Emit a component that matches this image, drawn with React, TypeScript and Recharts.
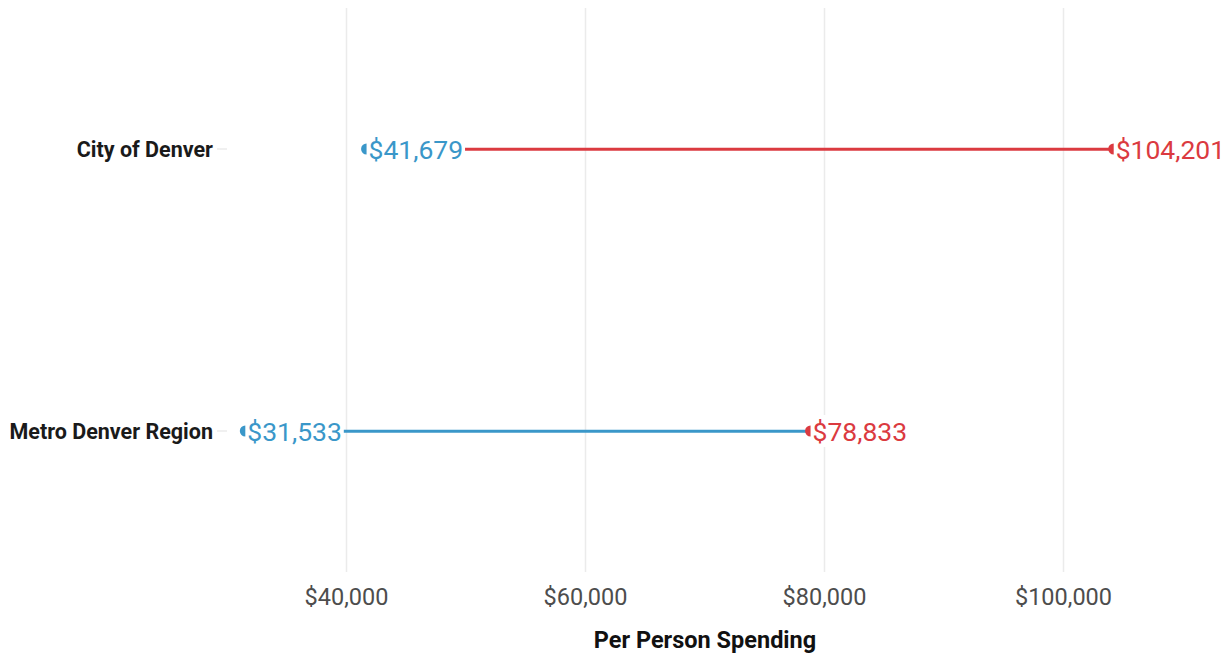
import { ComposedChart, Bar, Line, XAxis, YAxis, CartesianGrid, LabelList } from 'recharts';

// --- Data ---
const regions = ['City of Denver', 'Metro Denver Region'];
const spendingLow = [41679, 31533];
const spendingHigh = [104201, 78833];
const xTicks = [40000, 60000, 80000, 100000];

// --- Theme ---
const BLUE = '#3a97c9';
const RED = '#db3a40';
const LINE_COLORS = [RED, BLUE];
const FONT = 'Roboto, sans-serif';
const LABEL_SIZE = 26.5;
const X_DOMAIN = [30000, 110000];

const data = regions.map((name, i) => ({
    name,
    low: spendingLow[i],
    high: spendingHigh[i],
    range: [spendingLow[i], spendingHigh[i]],
}));

const fmt = (v: number) => `$${Number(v).toLocaleString('en-US')}`;

// grid lines only at the labelled ticks
const gridX = ({ xAxis, offset }: any) => {
    const s = xAxis?.scale;
    if (typeof s === 'function') return xTicks.map((t) => s(t));
    if (s && typeof s.map === 'function') return xTicks.map((t) => s.map(t));
    const left = offset?.left ?? 227;
    const w = offset?.width ?? 956;
    return xTicks.map((t) => left + ((t - X_DOMAIN[0]) / (X_DOMAIN[1] - X_DOMAIN[0])) * w);
};

// connector between the two dots
const Connector = (props: any) => {
    const { x, y, width, height, index } = props;
    const cy = y + height / 2;
    return <line x1={x} x2={x + width} y1={cy} y2={cy} stroke={LINE_COLORS[index]} strokeWidth={3} />;
};

// value label with a white box behind it, like geom_label without border
const makeLabel = (color: string) => (props: any) => {
    const { x, y, value } = props;
    const text = fmt(value);
    const digits = text.replace(/,/g, '').length;
    const commas = text.length - digits;
    const w = digits * 0.5615 * LABEL_SIZE + commas * 0.196 * LABEL_SIZE;
    return (
        <g>
            <rect x={x} y={y - 16} width={w + 4} height={32} fill="#fff" />
            <text x={x + 2} y={y} dy="0.36em" fontSize={LABEL_SIZE} fontFamily={FONT} fill={color}>
                {text}
            </text>
        </g>
    );
};

const makeDot = (color: string) => (props: any) => {
    const { cx, cy, index } = props;
    return <circle key={`dot-${index}`} cx={cx} cy={cy} r={5.5} fill={color} />;
};

export default function App() {
    return (
        <div style={{ width: 1232, height: 656 }}>
            <style>{'body{margin:0}'}</style>
            <ComposedChart
                width={1232}
                height={656}
                data={data}
                layout="vertical"
                margin={{ top: 8, right: 49, left: 0, bottom: 0 }}
            >
                <CartesianGrid
                    horizontal={false}
                    stroke="#ebebeb"
                    strokeWidth={1.5}
                    verticalCoordinatesGenerator={gridX}
                />
                <XAxis
                    type="number"
                    domain={X_DOMAIN}
                    ticks={xTicks}
                    tickFormatter={fmt}
                    axisLine={false}
                    tickLine={false}
                    tickSize={0}
                    tickMargin={16}
                    height={84}
                    tick={{ fontSize: 23.5, fill: '#4d4d4d', fontFamily: FONT }}
                    label={{
                        value: 'Per Person Spending',
                        position: 'insideBottom',
                        offset: 8,
                        fontSize: 23.5,
                        fontWeight: 700,
                        fill: '#111',
                        fontFamily: FONT,
                    }}
                />
                <YAxis
                    type="category"
                    dataKey="name"
                    width={227}
                    axisLine={false}
                    tickSize={10}
                    tickMargin={4}
                    tickLine={{ stroke: '#ebebeb', strokeWidth: 1.5 }}
                    tick={{ fontSize: 21.5, fontWeight: 700, fill: '#1a1a1a', fontFamily: FONT }}
                />
                <Bar dataKey="range" shape={Connector} isAnimationActive={false} />
                <Line
                    dataKey="low"
                    stroke="none"
                    dot={makeDot(BLUE)}
                    activeDot={false}
                    isAnimationActive={false}
                >
                    <LabelList dataKey="low" content={makeLabel(BLUE)} />
                </Line>
                <Line
                    dataKey="high"
                    stroke="none"
                    dot={makeDot(RED)}
                    activeDot={false}
                    isAnimationActive={false}
                >
                    <LabelList dataKey="high" content={makeLabel(RED)} />
                </Line>
            </ComposedChart>
        </div>
    );
}
